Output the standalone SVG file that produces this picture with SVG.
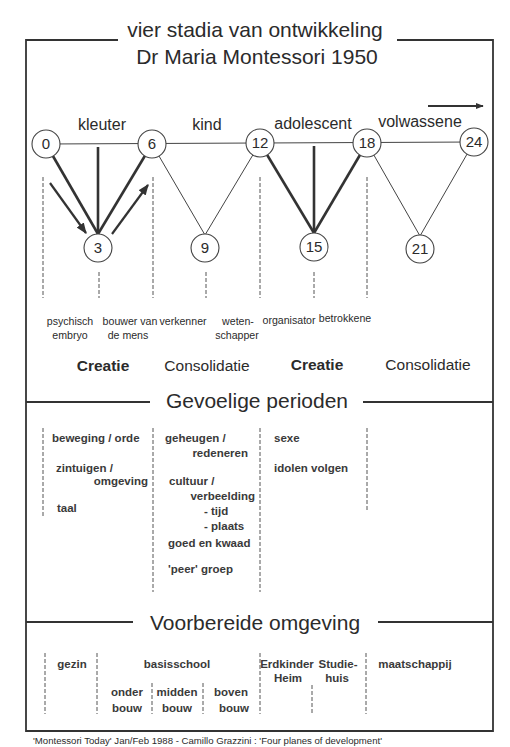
<svg xmlns="http://www.w3.org/2000/svg" width="510" height="747" viewBox="0 0 510 747">
<defs>
<marker id="ah" viewBox="0 0 10 10" refX="9" refY="5" markerWidth="5" markerHeight="5" orient="auto" markerUnits="strokeWidth">
<path d="M0,1 L10,5 L0,9 z" fill="#333"/>
</marker>
<marker id="ah2" viewBox="0 0 10 10" refX="9" refY="5" markerWidth="4" markerHeight="4" orient="auto" markerUnits="strokeWidth">
<path d="M0,1 L10,5 L0,9 z" fill="#333"/>
</marker>
</defs>
<style>
text{font-family:"Liberation Sans",Arial,sans-serif;fill:#2b2b2b}
.frame{fill:none;stroke:#333;stroke-width:1.8}
.thin{stroke:#444;stroke-width:1;fill:none}
.thick{stroke:#333;stroke-width:2.6;fill:none}
.dash{stroke:#555;stroke-width:1;stroke-dasharray:4 2;fill:none}
.node circle{fill:#fff;stroke:#444;stroke-width:1.1}
.node text{font-size:15px;text-anchor:middle}
.stage{font-size:16px;text-anchor:middle}
.role{font-size:10.6px;text-anchor:middle}
.big{font-size:15.5px;text-anchor:middle}
.bold{font-weight:bold}
.head{font-size:21px;text-anchor:middle}
.s{font-size:11.5px;font-weight:bold;fill:#3a3a3a}
.m{text-anchor:middle}
.e{text-anchor:end}
</style>
<rect width="510" height="747" fill="#fff"/>
<g id="frame">
<path class="frame" d="M118,40 H26 V731 H493 V40 H397"/>
<line class="frame" x1="26" y1="402" x2="150" y2="402"/>
<line class="frame" x1="363" y1="402" x2="493" y2="402"/>
<line class="frame" x1="26" y1="622" x2="133" y2="622"/>
<line class="frame" x1="378" y1="622" x2="493" y2="622"/>
</g>
<g id="titles">
<text x="255" y="37" font-size="21" text-anchor="middle">vier stadia van ontwikkeling</text>
<text x="257" y="64" font-size="21" text-anchor="middle">Dr Maria Montessori 1950</text>
<text class="head" x="257" y="408">Gevoelige perioden</text>
<text class="head" x="255" y="630">Voorbereide omgeving</text>
</g>
<g id="connectors">
<line x1="428" y1="106" x2="483" y2="106" stroke="#333" stroke-width="2" marker-end="url(#ah2)"/>
<line class="thin" x1="46" y1="144" x2="474" y2="142"/>
<line class="thin" x1="152" y1="144" x2="205" y2="235"/>
<line class="thin" x1="205" y1="235" x2="260" y2="143"/>
<line class="thin" x1="367" y1="143" x2="420" y2="236"/>
<line class="thin" x1="420" y1="236" x2="474" y2="142"/>
<line class="thick" x1="46" y1="144" x2="98" y2="234"/>
<line class="thick" x1="152" y1="144" x2="98" y2="234"/>
<line class="thick" x1="98" y1="147" x2="98" y2="234"/>
<line class="thick" x1="260" y1="143" x2="314" y2="233"/>
<line class="thick" x1="367" y1="143" x2="314" y2="233"/>
<line class="thick" x1="314" y1="146" x2="314" y2="233"/>
<line x1="50" y1="183" x2="86" y2="233" stroke="#333" stroke-width="2.2" marker-end="url(#ah)"/>
<line x1="112" y1="234" x2="148" y2="185" stroke="#333" stroke-width="2.2" marker-end="url(#ah)"/>
</g>
<g id="dashes">
<line class="dash" x1="43" y1="177" x2="43" y2="298"/>
<line class="dash" x1="153" y1="177" x2="153" y2="298"/>
<line class="dash" x1="260" y1="177" x2="260" y2="298"/>
<line class="dash" x1="367" y1="177" x2="367" y2="298"/>
<line class="dash" x1="99" y1="272" x2="99" y2="298"/>
<line class="dash" x1="206" y1="272" x2="206" y2="298"/>
<line class="dash" x1="314" y1="272" x2="314" y2="298"/>
<line class="dash" x1="43" y1="428" x2="43" y2="517"/>
<line class="dash" x1="153" y1="428" x2="153" y2="592"/>
<line class="dash" x1="260" y1="428" x2="260" y2="592"/>
<line class="dash" x1="367" y1="428" x2="367" y2="512"/>
<line class="dash" x1="45" y1="653" x2="45" y2="714"/>
<line class="dash" x1="97" y1="653" x2="97" y2="714"/>
<line class="dash" x1="152" y1="683" x2="152" y2="714"/>
<line class="dash" x1="203" y1="683" x2="203" y2="714"/>
<line class="dash" x1="260" y1="653" x2="260" y2="714"/>
<line class="dash" x1="312" y1="685" x2="312" y2="714"/>
<line class="dash" x1="366" y1="653" x2="366" y2="714"/>
</g>
<g id="n0" class="node"><circle cx="46" cy="144" r="14"/><text x="46" y="149">0</text></g>
<g id="n6" class="node"><circle cx="152" cy="144" r="14"/><text x="152" y="149">6</text></g>
<g id="n12" class="node"><circle cx="260" cy="143" r="14"/><text x="260" y="148">12</text></g>
<g id="n18" class="node"><circle cx="367" cy="143" r="14"/><text x="367" y="148">18</text></g>
<g id="n24" class="node"><circle cx="474" cy="142" r="14"/><text x="474" y="147">24</text></g>
<g id="n3" class="node"><circle cx="98" cy="248" r="14"/><text x="98" y="253">3</text></g>
<g id="n9" class="node"><circle cx="205" cy="248" r="14"/><text x="205" y="253">9</text></g>
<g id="n15" class="node"><circle cx="314" cy="247" r="14"/><text x="314" y="252">15</text></g>
<g id="n21" class="node"><circle cx="420" cy="249" r="14"/><text x="420" y="254">21</text></g>
<g id="stages">
<text class="stage" x="102" y="130">kleuter</text>
<text class="stage" x="207" y="130">kind</text>
<text class="stage" x="313" y="129">adolescent</text>
<text class="stage" x="420" y="127">volwassene</text>
</g>
<g id="roles">
<text class="role" x="70" y="325">psychisch</text>
<text class="role" x="70" y="339">embryo</text>
<text class="role" x="130" y="325">bouwer van</text>
<text class="role" x="128" y="339">de mens</text>
<text class="role" x="183" y="325">verkenner</text>
<text class="role" x="238" y="325">weten-</text>
<text class="role" x="237" y="339">schapper</text>
<text class="role" x="289" y="324">organisator</text>
<text class="role" x="345" y="322">betrokkene</text>
<text class="big bold" x="103" y="371">Creatie</text>
<text class="big" x="207" y="371">Consolidatie</text>
<text class="big bold" x="317" y="370">Creatie</text>
<text class="big" x="428" y="370">Consolidatie</text>
</g>
<g id="gevoelige">
<text class="s" x="52" y="442">beweging / orde</text>
<text class="s" x="56" y="472">zintuigen /</text>
<text class="s e" x="148" y="485">omgeving</text>
<text class="s" x="57" y="512">taal</text>
<text class="s" x="165" y="442">geheugen /</text>
<text class="s e" x="248" y="457">redeneren</text>
<text class="s" x="169" y="485">cultuur /</text>
<text class="s e" x="255" y="500">verbeelding</text>
<text class="s" x="204" y="515">- tijd</text>
<text class="s" x="204" y="530">- plaats</text>
<text class="s" x="168" y="547">goed en kwaad</text>
<text class="s" x="168" y="573">'peer' groep</text>
<text class="s" x="274" y="442">sexe</text>
<text class="s" x="274" y="472">idolen volgen</text>
</g>
<g id="omgeving">
<text class="s m" x="72" y="668">gezin</text>
<text class="s m" x="177" y="668">basisschool</text>
<text class="s m" x="127" y="696">onder</text>
<text class="s m" x="177" y="696">midden</text>
<text class="s m" x="231" y="696">boven</text>
<text class="s m" x="127" y="712">bouw</text>
<text class="s m" x="177" y="712">bouw</text>
<text class="s m" x="234" y="712">bouw</text>
<text class="s m" x="287" y="668">Erdkinder</text>
<text class="s m" x="338" y="668">Studie-</text>
<text class="s m" x="288" y="682">Heim</text>
<text class="s m" x="337" y="682">huis</text>
<text class="s m" x="415" y="668">maatschappij</text>
</g>
<text x="33" y="744" font-size="9.6">'Montessori Today' Jan/Feb 1988 - Camillo Grazzini : 'Four planes of development'</text>
</svg>
